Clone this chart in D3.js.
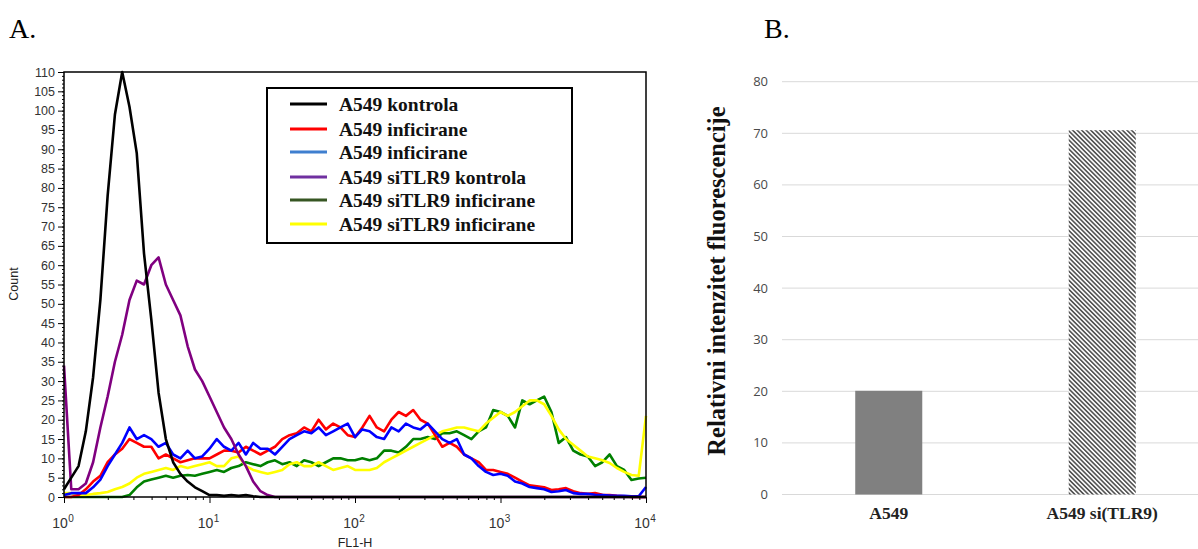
<!DOCTYPE html>
<html>
<head>
<meta charset="utf-8">
<script src="https://cdn.jsdelivr.net/npm/d3@7"></script>
<style>
  body { margin: 0; background: #fff; }
  svg { display: block; }
</style>
</head>
<body>
<script>
var W = 1198, H = 549;

// histogram channels, position in decades (0 = 10^0 ... 4 = 10^4), step 0.05
var channels = d3.range(81).map(function(i) { return i * 0.05; });

var seriesNames = ['A549 kontrola', 'A549 inficirane', 'A549 inficirane',
                   'A549 siTLR9 kontrola', 'A549 siTLR9 inficirane', 'A549 siTLR9 inficirane'];
var lineColors = ['#000000', '#ff0000', '#0000ff', '#800080', '#008000', '#ffff00'];
var legendColors = ['#000000', '#ff0000', '#3f7fcf', '#7030a0', '#375623', '#ffff00'];

var blackCounts = [2,5,8,17,31,51,78,99,110,101,89,63,46,27,15,9,6,4,2.5,1.5,
  0.5,0.5,0.3,0.5,0.3,0.5,0.2,0,0,0,0,0,0,0,0,0,0,0,0,0,
  0,0,0,0,0,0,0,0,0,0,0,0,0,0,0,0,0,0,0,0,
  0,0,0,0,0,0,0,0,0,0,0,0,0,0,0,0,0,0,0,0,0];
var redCounts = [0,0,0.5,2,4,5.5,9,11,12.5,15,14,13,13,10,11,10,9,9.5,10,10,
  10,11,12,12,11.5,13,12,11,12,13,15,16,16.5,18,17,20,17.5,19,18,16,
  15.5,18,21,18,17,20,22,21,22.5,20,19,16,13,14,13,11,10,9,7,7,
  6.5,6,5,4,3,2.8,2.5,1.8,2,2.3,1.5,1,0.8,1,0.6,0.5,0.3,0.2,0,0,0];
var blueCounts = [0.5,1,1,1,2.5,4.5,8,11,14,18,15,16,15,13,14,11,10,12,10,10.5,
  12.5,15,13,12,14,11,14,12.5,12.5,11,13,15,16,17,16.5,18,16,17,18,19,
  15.5,17.5,17,15.5,15,18,17,19,18,17.5,19,17,15,14,15,11,10,8,6.5,5.7,
  6,5.5,4,3.5,2.6,2.3,2,1.3,1.5,1.8,1,0.8,0.8,0.6,0.5,0.4,0.3,0.3,0.2,0.2,2.6];
var purpleCounts = [34,2,2,3.5,9,18,26,35,42,51,56,55,60,62,55,51,47,39,33,30,
  26,22,18,15,11,8,4,1.5,0.5,0,0,0,0,0,0,0,0,0,0,0,
  0,0,0,0,0,0,0,0,0,0,0,0,0,0,0,0,0,0,0,0,
  0,0,0,0,0,0,0,0,0,0,0,0,0,0,0,0,0,0,0,0,0];
var greenCounts = [0,0,0,0,0,0,0,0,0,0.5,2.5,4,4.5,5,5.5,5,5.5,5.7,5.5,6,
  6.5,7,6.5,7.5,8,9,8.5,8,9,9.5,8.5,9,8,9.5,9,8,9,10,10,9.5,
  9.5,10,9.5,10,12,12,11.5,13,15,15,15.5,15,16.5,16.5,17,16,15,17,18,22.5,
  22,21,18,25,24,25,26,22,14,15.5,12,11,10.5,8,9,11,8,7,4.4,4.8,5];
var yellowCounts = [1,1,0.5,0.5,0.8,1,1.3,2,2.6,3.5,5,6,6.5,7,7.5,7,8,7.5,8,8.5,
  9,8,8,10,10.5,8,7,6.5,6,6.5,7,8.5,9,8,8,9,8,7,7.5,8,
  7,7,7,7.5,9,10,11,12,13,14,15,16,17,17.5,18,18,17.5,17,19,20.5,
  22,21,22,23.5,25,25,24,21,17.5,15,13.5,12,10.5,10,9.5,8.8,7.5,6.5,5.7,5.5,21];

var allCounts = [blackCounts, redCounts, blueCounts, purpleCounts, greenCounts, yellowCounts];
var drawOrder = [4, 5, 1, 2, 3, 0];

var yTicks = d3.range(0, 111, 5);
var decadeTicks = [1, 10, 100, 1000, 10000];

var barCategories = ['A549', 'A549 si(TLR9)'];
var barValues = [20.1, 70.6];
var barTicks = [0, 10, 20, 30, 40, 50, 60, 70, 80];

var svg = d3.select('body').append('svg')
    .attr('width', W)
    .attr('height', H);

var defs = svg.append('defs');
var hatch = defs.append('pattern')
    .attr('id', 'hatch')
    .attr('patternUnits', 'userSpaceOnUse')
    .attr('width', 3.2).attr('height', 3.2)
    .attr('patternTransform', 'rotate(-45)');
hatch.append('rect').attr('width', 3.2).attr('height', 3.2).attr('fill', '#fff');
hatch.append('line')
    .attr('x1', 0.8).attr('y1', 0).attr('x2', 0.8).attr('y2', 3.2)
    .attr('stroke', '#555').attr('stroke-width', 1.7);

// panel letters
svg.append('text').attr('x', 9).attr('y', 38)
    .attr('font-family', 'Liberation Serif').attr('font-size', 28).text('A.');
svg.append('text').attr('x', 764).attr('y', 38)
    .attr('font-family', 'Liberation Serif').attr('font-size', 28).text('B.');

/* ---------- A: histogram ---------- */
var x = d3.scaleLog().domain([1, 10000]).range([64, 646]);
var y = d3.scaleLinear().domain([0, 110]).range([497, 72]);

var gA = svg.append('g');

var line = d3.line()
    .x(function(d) { return x(Math.pow(10, d[0])); })
    .y(function(d) { return y(d[1]); });

drawOrder.forEach(function(s) {
    var pts = channels.map(function(c, i) { return [c, allCounts[s][i]]; });
    gA.append('path')
        .attr('d', line(pts))
        .attr('fill', 'none')
        .attr('stroke', lineColors[s])
        .attr('stroke-width', 2.6)
        .attr('stroke-linejoin', 'round');
});

gA.append('rect')
    .attr('x', 64).attr('y', 72)
    .attr('width', 646 - 64).attr('height', 497 - 72)
    .attr('fill', 'none')
    .attr('stroke', '#000')
    .attr('stroke-width', 1.5);

// minor y ticks
gA.append('g')
    .attr('transform', 'translate(64,0)')
    .call(d3.axisLeft(y).tickValues(d3.range(0, 111, 1)).tickSize(2).tickFormat(''))
    .call(function(g) { g.select('.domain').remove(); });

var yAxisA = gA.append('g')
    .attr('transform', 'translate(64,0)')
    .call(d3.axisLeft(y).tickValues(yTicks).tickSize(6).tickPadding(3));
yAxisA.select('.domain').remove();
yAxisA.selectAll('text')
    .attr('font-family', 'Liberation Sans')
    .attr('font-size', 12.5)
    .attr('fill', '#333');

// x ticks (log minor + decades)
var minorX = [];
[1, 10, 100, 1000].forEach(function(b) {
    for (var m = 2; m <= 9; m++) minorX.push(b * m);
});
gA.append('g')
    .attr('transform', 'translate(0,497)')
    .call(d3.axisBottom(x).tickValues(minorX).tickSize(3).tickFormat(''))
    .call(function(g) { g.select('.domain').remove(); });
var xAxisA = gA.append('g')
    .attr('transform', 'translate(0,497)')
    .call(d3.axisBottom(x).tickValues(decadeTicks).tickSize(6).tickFormat(''));
xAxisA.select('.domain').remove();

gA.selectAll('.xlab')
    .data(decadeTicks)
    .enter()
    .append('text')
    .attr('class', 'xlab')
    .attr('x', function(d) { return x(d) - 1; })
    .attr('y', 528)
    .attr('text-anchor', 'middle')
    .attr('font-family', 'Liberation Sans')
    .attr('font-size', 14)
    .attr('fill', '#333')
    .each(function(d) {
        var t = d3.select(this);
        t.append('tspan').text('10');
        t.append('tspan')
            .attr('dx', 0.5).attr('dy', -6)
            .attr('font-size', 10)
            .text(Math.round(Math.log10(d)));
    });

gA.append('text')
    .attr('x', 355).attr('y', 547)
    .attr('text-anchor', 'middle')
    .attr('font-family', 'Liberation Sans')
    .attr('font-size', 12.5)
    .attr('fill', '#222')
    .text('FL1-H');

gA.append('text')
    .attr('transform', 'translate(18,284) rotate(-90)')
    .attr('text-anchor', 'middle')
    .attr('font-family', 'Liberation Sans')
    .attr('font-size', 12.5)
    .attr('fill', '#222')
    .text('Count');

// legend
var legendRows = [104, 129, 152, 177, 200, 224];
var gL = gA.append('g');
gL.append('rect')
    .attr('x', 267).attr('y', 88)
    .attr('width', 305).attr('height', 155)
    .attr('fill', '#fff')
    .attr('stroke', '#000')
    .attr('stroke-width', 2);
seriesNames.forEach(function(name, i) {
    gL.append('line')
        .attr('x1', 290).attr('x2', 327)
        .attr('y1', legendRows[i]).attr('y2', legendRows[i])
        .attr('stroke', legendColors[i])
        .attr('stroke-width', 3);
    gL.append('text')
        .attr('x', 339).attr('y', legendRows[i] + 7)
        .attr('font-family', 'Liberation Serif')
        .attr('font-weight', 'bold')
        .attr('font-size', 19.5)
        .attr('fill', '#111')
        .text(name);
});

/* ---------- B: bar chart ---------- */
var xb = d3.scaleBand()
    .domain(barCategories)
    .range([782, 1209])
    .paddingInner(0.686)
    .paddingOuter(0.343);
var yb = d3.scaleLinear().domain([0, 80]).range([494.5, 81.7]);

var gB = svg.append('g');

gB.selectAll('.grid')
    .data(barTicks)
    .enter()
    .append('line')
    .attr('class', 'grid')
    .attr('x1', 782).attr('x2', W)
    .attr('y1', function(d) { return yb(d); })
    .attr('y2', function(d) { return yb(d); })
    .attr('stroke', '#d9d9d9')
    .attr('stroke-width', 1);

gB.selectAll('.ytl')
    .data(barTicks)
    .enter()
    .append('text')
    .attr('class', 'ytl')
    .attr('x', 768)
    .attr('y', function(d) { return yb(d) + 4.5; })
    .attr('text-anchor', 'end')
    .attr('font-family', 'Open Sans')
    .attr('font-size', 13)
    .attr('fill', '#4a4a4a')
    .text(function(d) { return d; });

gB.selectAll('.bar')
    .data(barValues)
    .enter()
    .append('rect')
    .attr('class', 'bar')
    .attr('x', function(d, i) { return xb(barCategories[i]); })
    .attr('width', xb.bandwidth())
    .attr('y', function(d) { return yb(d); })
    .attr('height', function(d) { return yb(0) - yb(d); })
    .attr('fill', function(d, i) { return i === 0 ? '#808080' : 'url(#hatch)'; });

gB.selectAll('.cat')
    .data(barCategories)
    .enter()
    .append('text')
    .attr('class', 'cat')
    .attr('x', function(d) { return xb(d) + xb.bandwidth() / 2; })
    .attr('y', 519)
    .attr('text-anchor', 'middle')
    .attr('font-family', 'Liberation Serif')
    .attr('font-weight', 'bold')
    .attr('font-size', 17.5)
    .attr('fill', '#222')
    .text(function(d) { return d; });

gB.append('text')
    .attr('transform', 'translate(725,281) rotate(-90)')
    .attr('text-anchor', 'middle')
    .attr('font-family', 'Liberation Serif')
    .attr('font-weight', 'bold')
    .attr('font-size', 24.5)
    .attr('fill', '#111')
    .text('Relativni intenzitet fluorescencije');
</script>
</body>
</html>
